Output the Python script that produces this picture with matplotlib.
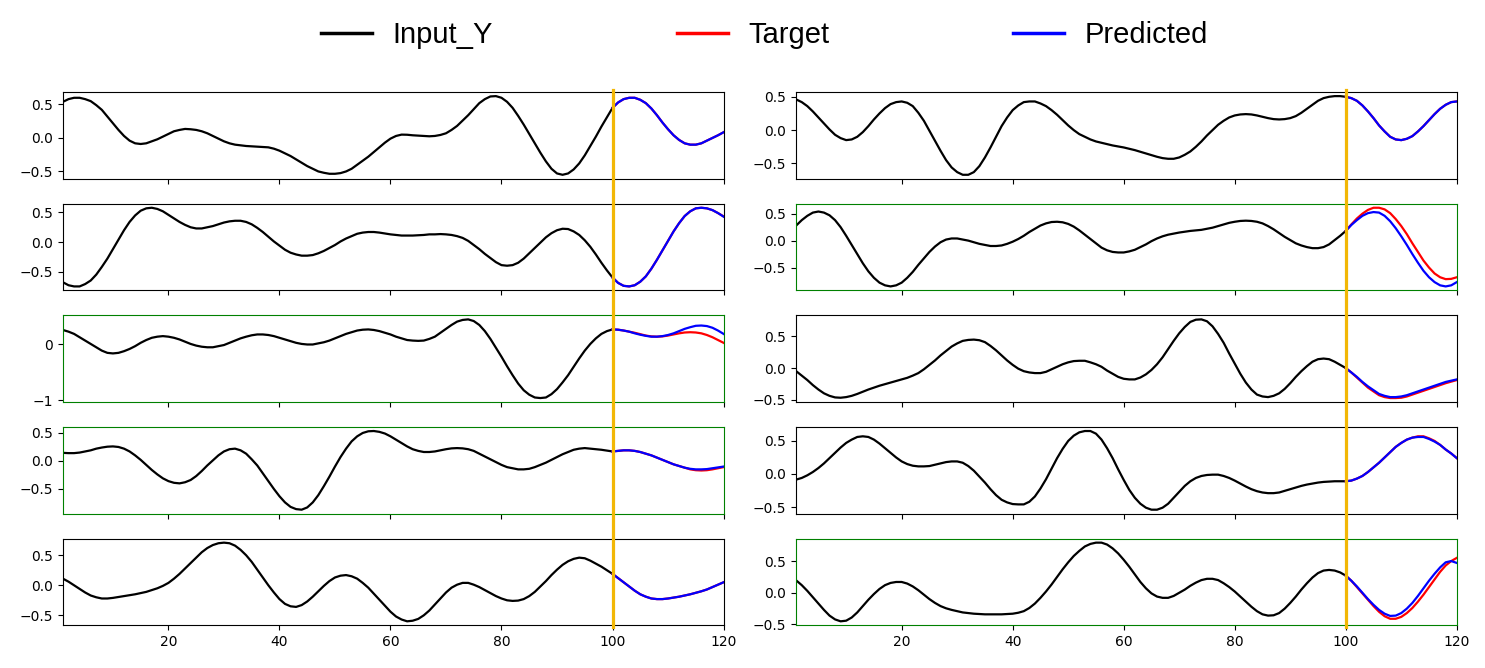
import numpy as np
import matplotlib
matplotlib.use("Agg")
import matplotlib.pyplot as plt
from matplotlib.lines import Line2D
from matplotlib.transforms import blended_transform_factory

# x positions: input window (0..100) and forecast window (100..120)
x_in = np.arange(0, 101)
x_out = np.arange(100, 121)

# ---- left column ----
in_L1 = [0.48, 0.54, 0.58, 0.60, 0.60, 0.58, 0.55, 0.49, 0.42, 0.32,
         0.22, 0.12, 0.03, -0.04, -0.08, -0.09, -0.08, -0.05, -0.02, 0.02,
         0.06, 0.10, 0.12, 0.135, 0.13, 0.12, 0.10, 0.07, 0.03, -0.01,
         -0.05, -0.08, -0.10, -0.11, -0.12, -0.125, -0.13, -0.135, -0.14, -0.16,
         -0.19, -0.23, -0.27, -0.32, -0.37, -0.42, -0.46, -0.50, -0.52, -0.535,
         -0.535, -0.525, -0.50, -0.46, -0.40, -0.34, -0.28, -0.21, -0.14, -0.07,
         -0.01, 0.03, 0.05, 0.048, 0.04, 0.035, 0.03, 0.025, 0.03, 0.045,
         0.07, 0.12, 0.18, 0.26, 0.34, 0.43, 0.52, 0.58, 0.62, 0.625,
         0.60, 0.54, 0.45, 0.33, 0.20, 0.06, -0.08, -0.22, -0.35, -0.46,
         -0.53, -0.55, -0.53, -0.47, -0.38, -0.26, -0.12, 0.02, 0.17, 0.31,
         0.45]
tgt_L1 = [0.45, 0.53, 0.58, 0.60, 0.60, 0.57, 0.52, 0.44, 0.34, 0.23,
          0.13, 0.04, -0.03, -0.08, -0.10, -0.10, -0.08, -0.04, 0.00, 0.04, 0.085]
pred_L1 = [0.45, 0.53, 0.58, 0.60, 0.60, 0.57, 0.52, 0.44, 0.34, 0.23,
           0.13, 0.04, -0.03, -0.08, -0.10, -0.10, -0.08, -0.04, 0.00, 0.04, 0.085]

in_L2 = [-0.62, -0.68, -0.73, -0.75, -0.75, -0.71, -0.65, -0.55, -0.42, -0.28,
         -0.12, 0.04, 0.20, 0.34, 0.45, 0.53, 0.57, 0.58, 0.56, 0.52,
         0.46, 0.40, 0.34, 0.29, 0.25, 0.23, 0.23, 0.25, 0.27, 0.30,
         0.33, 0.35, 0.36, 0.36, 0.34, 0.30, 0.24, 0.17, 0.09, 0.01,
         -0.06, -0.13, -0.18, -0.21, -0.23, -0.23, -0.22, -0.19, -0.15, -0.10,
         -0.05, 0.01, 0.06, 0.10, 0.14, 0.16, 0.17, 0.17, 0.16, 0.145,
         0.13, 0.12, 0.11, 0.11, 0.11, 0.115, 0.12, 0.13, 0.13, 0.135,
         0.13, 0.12, 0.10, 0.07, 0.02, -0.05, -0.12, -0.20, -0.27, -0.34,
         -0.39, -0.40, -0.39, -0.35, -0.28, -0.19, -0.10, -0.01, 0.08, 0.15,
         0.20, 0.225, 0.22, 0.18, 0.12, 0.03, -0.08, -0.21, -0.35, -0.48,
         -0.60]
tgt_L2 = [-0.60, -0.69, -0.74, -0.75, -0.73, -0.67, -0.58, -0.45, -0.30, -0.14,
          0.02, 0.18, 0.32, 0.44, 0.52, 0.57, 0.58, 0.57, 0.54, 0.49, 0.435]
pred_L2 = [-0.60, -0.69, -0.74, -0.75, -0.73, -0.67, -0.58, -0.45, -0.30, -0.14,
           0.02, 0.18, 0.32, 0.44, 0.52, 0.57, 0.58, 0.57, 0.54, 0.49, 0.43]

in_L3 = [0.27, 0.26, 0.23, 0.19, 0.13, 0.07, 0.01, -0.05, -0.11, -0.15,
         -0.16, -0.15, -0.12, -0.08, -0.03, 0.03, 0.08, 0.12, 0.14, 0.15,
         0.14, 0.12, 0.09, 0.05, 0.01, -0.02, -0.04, -0.05, -0.05, -0.03,
         -0.01, 0.03, 0.07, 0.11, 0.14, 0.165, 0.18, 0.18, 0.17, 0.15,
         0.12, 0.09, 0.06, 0.03, 0.01, 0.00, 0.00, 0.02, 0.04, 0.07,
         0.11, 0.15, 0.19, 0.22, 0.25, 0.265, 0.27, 0.26, 0.24, 0.21,
         0.18, 0.14, 0.11, 0.08, 0.07, 0.065, 0.07, 0.10, 0.14, 0.21,
         0.28, 0.35, 0.41, 0.44, 0.45, 0.42, 0.35, 0.24, 0.10, -0.06,
         -0.22, -0.39, -0.55, -0.70, -0.82, -0.90, -0.95, -0.96, -0.95, -0.89,
         -0.80, -0.68, -0.55, -0.40, -0.25, -0.11, 0.01, 0.11, 0.19, 0.24,
         0.27]
tgt_L3 = [0.27, 0.265, 0.25, 0.23, 0.21, 0.185, 0.16, 0.145, 0.14, 0.145,
          0.16, 0.18, 0.20, 0.215, 0.22, 0.215, 0.20, 0.17, 0.13, 0.08, 0.03]
pred_L3 = [0.27, 0.265, 0.25, 0.23, 0.20, 0.175, 0.155, 0.14, 0.14, 0.15,
           0.17, 0.20, 0.24, 0.28, 0.31, 0.335, 0.34, 0.33, 0.30, 0.25, 0.19]

in_L4 = [0.15, 0.145, 0.14, 0.14, 0.15, 0.17, 0.19, 0.22, 0.24, 0.255,
         0.26, 0.25, 0.22, 0.17, 0.10, 0.02, -0.07, -0.16, -0.24, -0.31,
         -0.36, -0.39, -0.40, -0.38, -0.34, -0.27, -0.18, -0.08, 0.01, 0.10,
         0.17, 0.21, 0.22, 0.19, 0.13, 0.03, -0.08, -0.22, -0.36, -0.50,
         -0.63, -0.74, -0.82, -0.86, -0.87, -0.83, -0.74, -0.61, -0.45, -0.28,
         -0.10, 0.07, 0.22, 0.35, 0.44, 0.50, 0.53, 0.535, 0.52, 0.49,
         0.44, 0.38, 0.32, 0.26, 0.21, 0.18, 0.16, 0.16, 0.17, 0.19,
         0.21, 0.225, 0.23, 0.225, 0.21, 0.18, 0.13, 0.08, 0.03, -0.02,
         -0.07, -0.11, -0.13, -0.15, -0.15, -0.14, -0.11, -0.07, -0.03, 0.02,
         0.07, 0.12, 0.16, 0.20, 0.22, 0.23, 0.22, 0.21, 0.20, 0.185,
         0.17]
tgt_L4 = [0.17, 0.18, 0.19, 0.19, 0.18, 0.16, 0.13, 0.10, 0.06, 0.02,
          -0.02, -0.06, -0.09, -0.12, -0.15, -0.165, -0.17, -0.165, -0.15, -0.13, -0.11]
pred_L4 = [0.17, 0.18, 0.19, 0.19, 0.18, 0.16, 0.13, 0.10, 0.06, 0.02,
           -0.02, -0.06, -0.09, -0.12, -0.14, -0.15, -0.15, -0.145, -0.13, -0.115, -0.10]

in_L5 = [0.14, 0.11, 0.06, 0.00, -0.06, -0.12, -0.17, -0.20, -0.22, -0.22,
         -0.21, -0.195, -0.18, -0.165, -0.15, -0.13, -0.11, -0.08, -0.05, -0.01,
         0.04, 0.11, 0.19, 0.28, 0.37, 0.46, 0.55, 0.62, 0.67, 0.70,
         0.71, 0.70, 0.66, 0.59, 0.50, 0.39, 0.26, 0.13, 0.00, -0.12,
         -0.23, -0.31, -0.35, -0.36, -0.33, -0.27, -0.19, -0.10, -0.01, 0.07,
         0.13, 0.16, 0.17, 0.15, 0.11, 0.04, -0.04, -0.14, -0.24, -0.34,
         -0.44, -0.52, -0.57, -0.60, -0.59, -0.56, -0.50, -0.42, -0.32, -0.22,
         -0.12, -0.04, 0.01, 0.04, 0.04, 0.01, -0.03, -0.08, -0.13, -0.18,
         -0.22, -0.25, -0.26, -0.255, -0.23, -0.18, -0.11, -0.02, 0.07, 0.17,
         0.26, 0.34, 0.40, 0.44, 0.46, 0.45, 0.41, 0.36, 0.31, 0.25,
         0.19]
tgt_L5 = [0.19, 0.12, 0.05, -0.02, -0.09, -0.15, -0.19, -0.22, -0.23, -0.23,
          -0.22, -0.205, -0.19, -0.17, -0.15, -0.125, -0.10, -0.07, -0.03, 0.01, 0.05]
pred_L5 = [0.19, 0.12, 0.05, -0.02, -0.09, -0.15, -0.19, -0.22, -0.23, -0.23,
           -0.22, -0.205, -0.19, -0.17, -0.15, -0.125, -0.10, -0.07, -0.03, 0.01, 0.05]

# ---- right column ----
in_R1 = [0.48, 0.46, 0.42, 0.36, 0.28, 0.19, 0.10, 0.01, -0.07, -0.12,
         -0.15, -0.14, -0.10, -0.03, 0.06, 0.16, 0.25, 0.33, 0.39, 0.42,
         0.43, 0.41, 0.36, 0.26, 0.14, -0.01, -0.16, -0.31, -0.45, -0.56,
         -0.63, -0.67, -0.67, -0.63, -0.54, -0.41, -0.26, -0.10, 0.06, 0.19,
         0.30, 0.37, 0.42, 0.43, 0.43, 0.40, 0.36, 0.30, 0.23, 0.15,
         0.07, 0.00, -0.06, -0.10, -0.14, -0.17, -0.19, -0.21, -0.23, -0.245,
         -0.26, -0.28, -0.30, -0.325, -0.35, -0.375, -0.40, -0.42, -0.43, -0.43,
         -0.41, -0.37, -0.32, -0.25, -0.17, -0.08, 0.00, 0.08, 0.14, 0.19,
         0.22, 0.235, 0.24, 0.235, 0.22, 0.20, 0.18, 0.165, 0.16, 0.165,
         0.18, 0.21, 0.26, 0.32, 0.38, 0.44, 0.48, 0.50, 0.51, 0.51,
         0.50]
tgt_R1 = [0.50, 0.48, 0.44, 0.37, 0.28, 0.18, 0.07, -0.02, -0.10, -0.14,
          -0.15, -0.13, -0.09, -0.02, 0.06, 0.15, 0.24, 0.32, 0.38, 0.42, 0.43]
pred_R1 = [0.50, 0.48, 0.44, 0.37, 0.28, 0.18, 0.07, -0.02, -0.10, -0.14,
           -0.15, -0.13, -0.09, -0.02, 0.06, 0.15, 0.24, 0.32, 0.38, 0.42, 0.43]

in_R2 = [0.22, 0.28, 0.38, 0.46, 0.52, 0.54, 0.52, 0.47, 0.38, 0.25,
         0.09, -0.08, -0.25, -0.42, -0.57, -0.69, -0.78, -0.83, -0.85, -0.83,
         -0.78, -0.69, -0.58, -0.45, -0.33, -0.21, -0.11, -0.03, 0.02, 0.04,
         0.04, 0.02, 0.00, -0.03, -0.06, -0.08, -0.10, -0.10, -0.09, -0.06,
         -0.02, 0.03, 0.09, 0.16, 0.22, 0.28, 0.32, 0.345, 0.35, 0.34,
         0.31, 0.26, 0.19, 0.11, 0.03, -0.05, -0.13, -0.18, -0.21, -0.22,
         -0.22, -0.20, -0.17, -0.12, -0.07, -0.01, 0.04, 0.08, 0.11, 0.13,
         0.15, 0.165, 0.18, 0.19, 0.20, 0.22, 0.24, 0.27, 0.30, 0.33,
         0.35, 0.365, 0.37, 0.365, 0.35, 0.32, 0.27, 0.21, 0.14, 0.07,
         0.01, -0.05, -0.09, -0.12, -0.14, -0.14, -0.12, -0.07, 0.01, 0.09,
         0.18]
tgt_R2 = [0.18, 0.30, 0.41, 0.50, 0.57, 0.61, 0.61, 0.58, 0.51, 0.40,
          0.27, 0.12, -0.05, -0.21, -0.37, -0.50, -0.61, -0.68, -0.715, -0.71, -0.68]
pred_R2 = [0.18, 0.29, 0.38, 0.46, 0.51, 0.53, 0.52, 0.46, 0.36, 0.23,
           0.08, -0.08, -0.25, -0.41, -0.56, -0.68, -0.77, -0.83, -0.85, -0.83, -0.77]

in_R3 = [0.00, -0.05, -0.12, -0.19, -0.27, -0.34, -0.40, -0.44, -0.465, -0.47,
         -0.46, -0.44, -0.41, -0.375, -0.34, -0.31, -0.28, -0.255, -0.23, -0.205,
         -0.18, -0.155, -0.12, -0.08, -0.02, 0.05, 0.12, 0.20, 0.27, 0.34,
         0.39, 0.43, 0.445, 0.45, 0.44, 0.41, 0.35, 0.28, 0.20, 0.12,
         0.05, -0.01, -0.05, -0.07, -0.08, -0.08, -0.06, -0.02, 0.02, 0.06,
         0.09, 0.11, 0.115, 0.115, 0.09, 0.06, 0.02, -0.04, -0.09, -0.14,
         -0.17, -0.18, -0.18, -0.15, -0.10, -0.03, 0.06, 0.17, 0.30, 0.43,
         0.55, 0.65, 0.73, 0.765, 0.77, 0.74, 0.66, 0.54, 0.40, 0.23,
         0.07, -0.09, -0.23, -0.34, -0.42, -0.45, -0.46, -0.44, -0.40, -0.33,
         -0.24, -0.14, -0.05, 0.03, 0.10, 0.14, 0.15, 0.14, 0.10, 0.05,
         0.00]
tgt_R3 = [0.00, -0.07, -0.15, -0.23, -0.31, -0.37, -0.43, -0.46, -0.475, -0.475,
          -0.47, -0.45, -0.42, -0.39, -0.36, -0.33, -0.30, -0.27, -0.24, -0.215, -0.19]
pred_R3 = [0.00, -0.07, -0.14, -0.22, -0.29, -0.35, -0.41, -0.44, -0.46, -0.46,
           -0.45, -0.43, -0.40, -0.37, -0.34, -0.31, -0.28, -0.25, -0.22, -0.20, -0.18]

in_R4 = [-0.10, -0.085, -0.06, -0.02, 0.03, 0.09, 0.16, 0.24, 0.32, 0.40,
         0.47, 0.52, 0.56, 0.57, 0.56, 0.52, 0.46, 0.39, 0.32, 0.25,
         0.19, 0.15, 0.125, 0.115, 0.115, 0.12, 0.14, 0.16, 0.18, 0.19,
         0.19, 0.17, 0.12, 0.05, -0.04, -0.13, -0.23, -0.32, -0.39, -0.43,
         -0.455, -0.46, -0.46, -0.42, -0.34, -0.22, -0.08, 0.08, 0.24, 0.38,
         0.50, 0.58, 0.63, 0.65, 0.65, 0.61, 0.52, 0.39, 0.24, 0.07,
         -0.09, -0.24, -0.36, -0.45, -0.51, -0.54, -0.54, -0.51, -0.45, -0.36,
         -0.27, -0.18, -0.11, -0.06, -0.03, -0.015, -0.01, -0.01, -0.03, -0.06,
         -0.10, -0.145, -0.19, -0.23, -0.26, -0.28, -0.29, -0.29, -0.28, -0.255,
         -0.23, -0.205, -0.18, -0.16, -0.145, -0.13, -0.12, -0.115, -0.11, -0.11,
         -0.11]
tgt_R4 = [-0.11, -0.10, -0.07, -0.03, 0.03, 0.10, 0.17, 0.25, 0.33, 0.41,
          0.47, 0.52, 0.55, 0.57, 0.57, 0.54, 0.50, 0.44, 0.37, 0.31, 0.24]
pred_R4 = [-0.11, -0.10, -0.07, -0.03, 0.03, 0.10, 0.17, 0.25, 0.33, 0.41,
           0.47, 0.52, 0.55, 0.56, 0.56, 0.53, 0.49, 0.44, 0.37, 0.31, 0.24]

in_R5 = [0.25, 0.195, 0.12, 0.03, -0.07, -0.17, -0.27, -0.36, -0.42, -0.45,
         -0.44, -0.39, -0.31, -0.21, -0.11, -0.02, 0.06, 0.12, 0.155, 0.17,
         0.17, 0.145, 0.10, 0.04, -0.03, -0.10, -0.16, -0.21, -0.245, -0.27,
         -0.29, -0.31, -0.32, -0.33, -0.335, -0.34, -0.34, -0.34, -0.34, -0.335,
         -0.33, -0.315, -0.29, -0.24, -0.17, -0.08, 0.02, 0.13, 0.25, 0.37,
         0.48, 0.58, 0.66, 0.73, 0.77, 0.79, 0.79, 0.76, 0.70, 0.62,
         0.52, 0.41, 0.29, 0.17, 0.07, -0.01, -0.06, -0.08, -0.08, -0.05,
         0.00, 0.05, 0.11, 0.16, 0.20, 0.22, 0.22, 0.20, 0.15, 0.09,
         0.02, -0.06, -0.14, -0.22, -0.29, -0.34, -0.36, -0.355, -0.32, -0.25,
         -0.16, -0.06, 0.05, 0.15, 0.24, 0.31, 0.35, 0.36, 0.35, 0.32,
         0.27]
tgt_R5 = [0.27, 0.19, 0.09, -0.01, -0.11, -0.21, -0.30, -0.37, -0.41, -0.41,
          -0.38, -0.32, -0.24, -0.14, -0.03, 0.09, 0.21, 0.33, 0.43, 0.50, 0.55]
pred_R5 = [0.27, 0.19, 0.10, 0.00, -0.10, -0.19, -0.27, -0.33, -0.365, -0.36,
           -0.32, -0.25, -0.16, -0.05, 0.07, 0.19, 0.30, 0.40, 0.48, 0.50, 0.47]

panels = [
    [(in_L1, tgt_L1, pred_L1), (in_R1, tgt_R1, pred_R1)],
    [(in_L2, tgt_L2, pred_L2), (in_R2, tgt_R2, pred_R2)],
    [(in_L3, tgt_L3, pred_L3), (in_R3, tgt_R3, pred_R3)],
    [(in_L4, tgt_L4, pred_L4), (in_R4, tgt_R4, pred_R4)],
    [(in_L5, tgt_L5, pred_L5), (in_R5, tgt_R5, pred_R5)],
]
# panels framed in green
green = [(2, 0), (3, 0), (1, 1), (4, 1)]
split_x = 100

fig, axes = plt.subplots(5, 2, figsize=(14.85, 6.68), dpi=100, sharex=True)
plt.subplots_adjust(left=0.0424, right=0.981, top=0.862, bottom=0.064, wspace=0.11, hspace=0.29)

for r in range(5):
    for c in range(2):
        ax = axes[r, c]
        y_in, y_tgt, y_pred = panels[r][c]
        ax.plot(x_in, y_in, color='black', lw=1.6)
        ax.plot(x_out, y_tgt, color='red', lw=1.6)
        ax.plot(x_out, y_pred, color='blue', lw=1.6)
        ax.set_xlim(1, 120)
        if (r, c) in green:
            for s in ax.spines.values():
                s.set_color('green')

# vertical split line running through each column
for c in range(2):
    tr = blended_transform_factory(axes[4, c].transData, fig.transFigure)
    fig.add_artist(Line2D([split_x, split_x], [0.061, 0.866], transform=tr,
                          color='#F2B705', lw=2.3, zorder=10))

handles = [Line2D([], [], color='black', lw=2.5),
           Line2D([], [], color='red', lw=2.5),
           Line2D([], [], color='blue', lw=2.5)]
fig.legend(handles, ['Input_Y', 'Target', 'Predicted'], loc='center',
           bbox_to_anchor=(0.515, 0.948), ncol=3, frameon=False,
           prop={'family': 'Liberation Sans', 'size': 21},
           handlelength=1.75, handletextpad=0.7, columnspacing=6.3)

plt.savefig('out.png')
